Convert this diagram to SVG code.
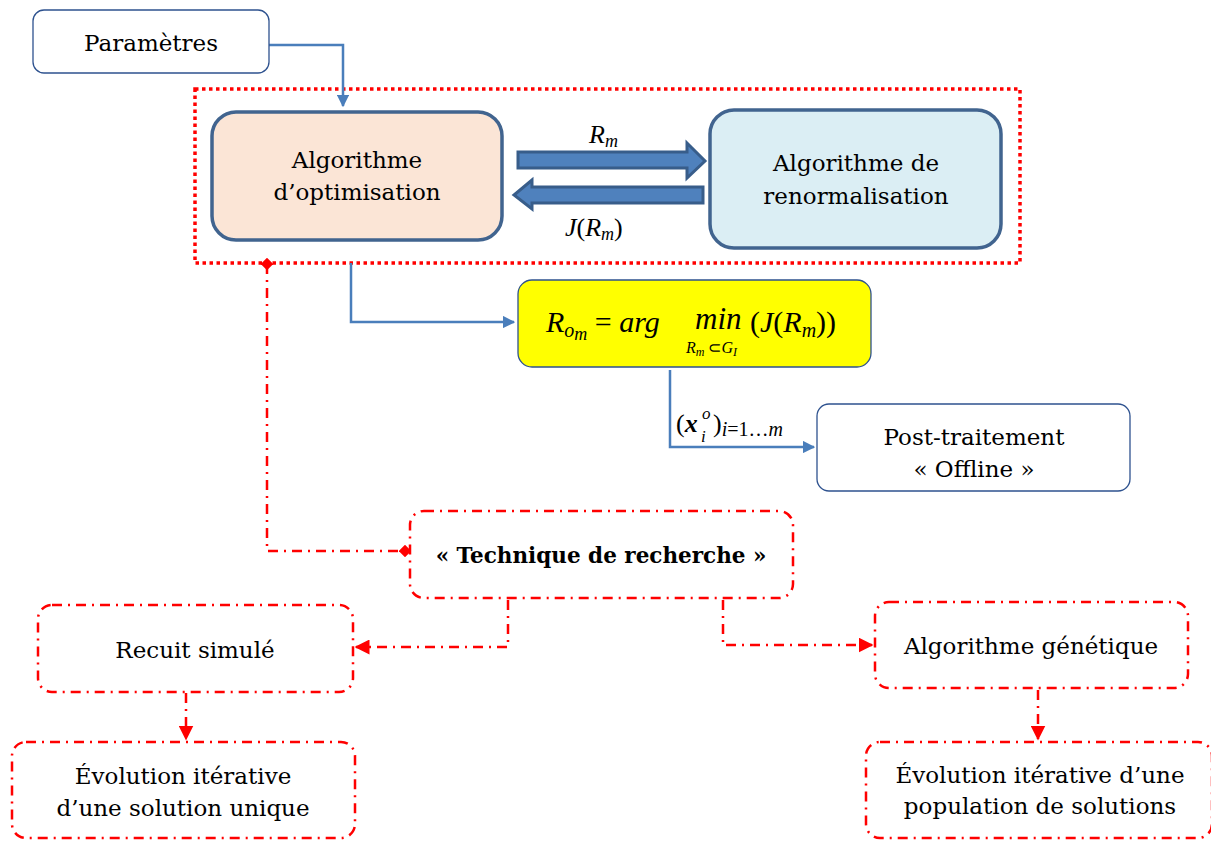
<svg xmlns="http://www.w3.org/2000/svg" width="1211" height="841" viewBox="0 0 1211 841">
<defs>
<style>
.t{font-family:"DejaVu Serif","Liberation Serif",serif;font-size:23px;fill:#000;text-anchor:middle}
.m{font-family:"Liberation Serif",serif;font-style:italic;fill:#000}
.wb{fill:#fff;stroke:#2e528f;stroke-width:1.3}
.rb{fill:#fff;stroke:#ff0000;stroke-width:2.5;stroke-dasharray:10 6 2 6}
.bl{fill:none;stroke:#4a7ebb;stroke-width:2.5}
.rl{fill:none;stroke:#ff0000;stroke-width:2.5;stroke-dasharray:10 6 2 6}
.big{fill:#4f81bd;stroke:#385d8a;stroke-width:3;stroke-linejoin:miter}
</style>
<marker id="ab" viewBox="0 0 10 10" refX="9" refY="5" markerWidth="5" markerHeight="5" orient="auto" markerUnits="strokeWidth"><path d="M0,0L10,5L0,10z" fill="#4a7ebb"/></marker>
<marker id="ar" viewBox="0 0 10 10" refX="9" refY="5" markerWidth="6" markerHeight="6" orient="auto" markerUnits="strokeWidth"><path d="M0,0L10,5L0,10z" fill="#ff0000"/></marker>
<marker id="dr" viewBox="0 0 10 10" refX="5" refY="5" markerWidth="5" markerHeight="5" orient="auto" markerUnits="strokeWidth"><path d="M0,5L5,0L10,5L5,10z" fill="#ff0000"/></marker>
</defs>
<rect width="1211" height="841" fill="#fff"/>

<g id="frame"><rect x="195" y="89" width="825" height="174" fill="none" stroke="#ff0000" stroke-width="3.5" stroke-dasharray="3.5 3.5"/></g>

<g id="connectors">
<path class="bl" d="M269,45H343V106" marker-end="url(#ab)"/>
<path class="bl" d="M351,263V322H514" marker-end="url(#ab)"/>
<path class="bl" d="M670,370V447H814" marker-end="url(#ab)"/>
<path class="big" d="M518,152H687V143L705,161L687,178V168H518Z"/>
<path class="big" d="M703,187H532V180L514,195L532,209V203H703Z"/>
<path class="rl" d="M267,264V551H405" marker-start="url(#dr)" marker-end="url(#dr)"/>
<path class="rl" d="M508,600V647H356" marker-end="url(#ar)"/>
<path class="rl" d="M723,600V645H872" marker-end="url(#ar)"/>
<path class="rl" d="M186,693V739" marker-end="url(#ar)"/>
<path class="rl" d="M1038,690V739" marker-end="url(#ar)"/>
</g>

<g id="lbl-rm"><text class="m" x="589" y="143" font-size="26">R<tspan font-size="18" dy="4">m</tspan></text></g>
<g id="lbl-jrm"><text class="m" x="565" y="236" font-size="26">J<tspan font-style="normal">(</tspan>R<tspan font-size="18" dy="4">m</tspan><tspan font-style="normal" dy="-4">)</tspan></text></g>
<g id="lbl-xi">
<text class="m" x="676" y="432" font-size="26"><tspan font-style="normal">(</tspan><tspan font-weight="bold">x</tspan></text>
<text class="m" x="702" y="419" font-size="17">o</text>
<text class="m" x="701" y="442" font-size="17">i</text>
<text class="m" x="713" y="432" font-size="26"><tspan font-style="normal">)</tspan><tspan font-size="20" dy="4">i<tspan font-style="normal">=1…</tspan>m</tspan></text>
</g>

<g id="n-param"><rect class="wb" x="33" y="10" width="236" height="63" rx="11"/><text class="t" x="151" y="51">Paramètres</text></g>

<g id="n-optim"><rect x="212" y="112" width="290" height="128" rx="24" fill="#fbe5d6" stroke="#41648f" stroke-width="3.5"/><text class="t" x="357" y="168">Algorithme</text><text class="t" x="357" y="200">d’optimisation</text></g>

<g id="n-renorm"><rect x="710" y="110" width="291" height="138" rx="24" fill="#dbeef4" stroke="#41648f" stroke-width="3.5"/><text class="t" x="856" y="171">Algorithme de</text><text class="t" x="856" y="204">renormalisation</text></g>

<g id="n-argmin"><rect x="518" y="280" width="353" height="87" rx="14" fill="#ffff00" stroke="#2e528f" stroke-width="1.3"/>
<text class="m" x="546" y="332" font-size="30">R<tspan font-size="20" dy="5">o</tspan><tspan font-size="18" dy="3">m</tspan><tspan dy="-8" font-style="normal"> = </tspan>arg</text>
<text class="m" x="695" y="329" font-size="31">min</text>
<text class="m" x="750" y="332" font-size="30"><tspan font-style="normal">(</tspan>J<tspan font-style="normal">(</tspan>R<tspan font-size="20" dy="5">m</tspan><tspan font-style="normal" dy="-5">))</tspan></text>
<text class="m" x="686" y="353" font-size="16">R<tspan font-size="12" dy="3">m</tspan><tspan dy="-3" font-style="normal"> ⊂</tspan>G<tspan font-size="12" dy="3">I</tspan></text></g>

<g id="n-post"><rect class="wb" x="817" y="404" width="313" height="87" rx="12"/><text class="t" x="974" y="445">Post-traitement</text><text class="t" x="974" y="477">« Offline »</text></g>

<g id="n-tech"><rect class="rb" x="410" y="511" width="383" height="87" rx="14"/><text class="t" x="601" y="563" style="font-weight:bold;font-size:21.5px">« Technique de recherche »</text></g>

<g id="n-recuit"><rect class="rb" x="38" y="605" width="315" height="87" rx="14"/><text class="t" x="195" y="658">Recuit simulé</text></g>

<g id="n-gen"><rect class="rb" x="875" y="602" width="313" height="86" rx="14"/><text class="t" x="1031" y="654">Algorithme génétique</text></g>

<g id="n-evo1"><rect class="rb" x="12" y="742" width="343" height="96" rx="14"/><text class="t" x="183" y="784">Évolution itérative</text><text class="t" x="183" y="816">d’une solution unique</text></g>

<g id="n-evo2"><rect class="rb" x="866" y="742" width="346" height="96" rx="14"/><text class="t" x="1040" y="783">Évolution itérative d’une</text><text class="t" x="1040" y="814">population de solutions</text></g>
</svg>
